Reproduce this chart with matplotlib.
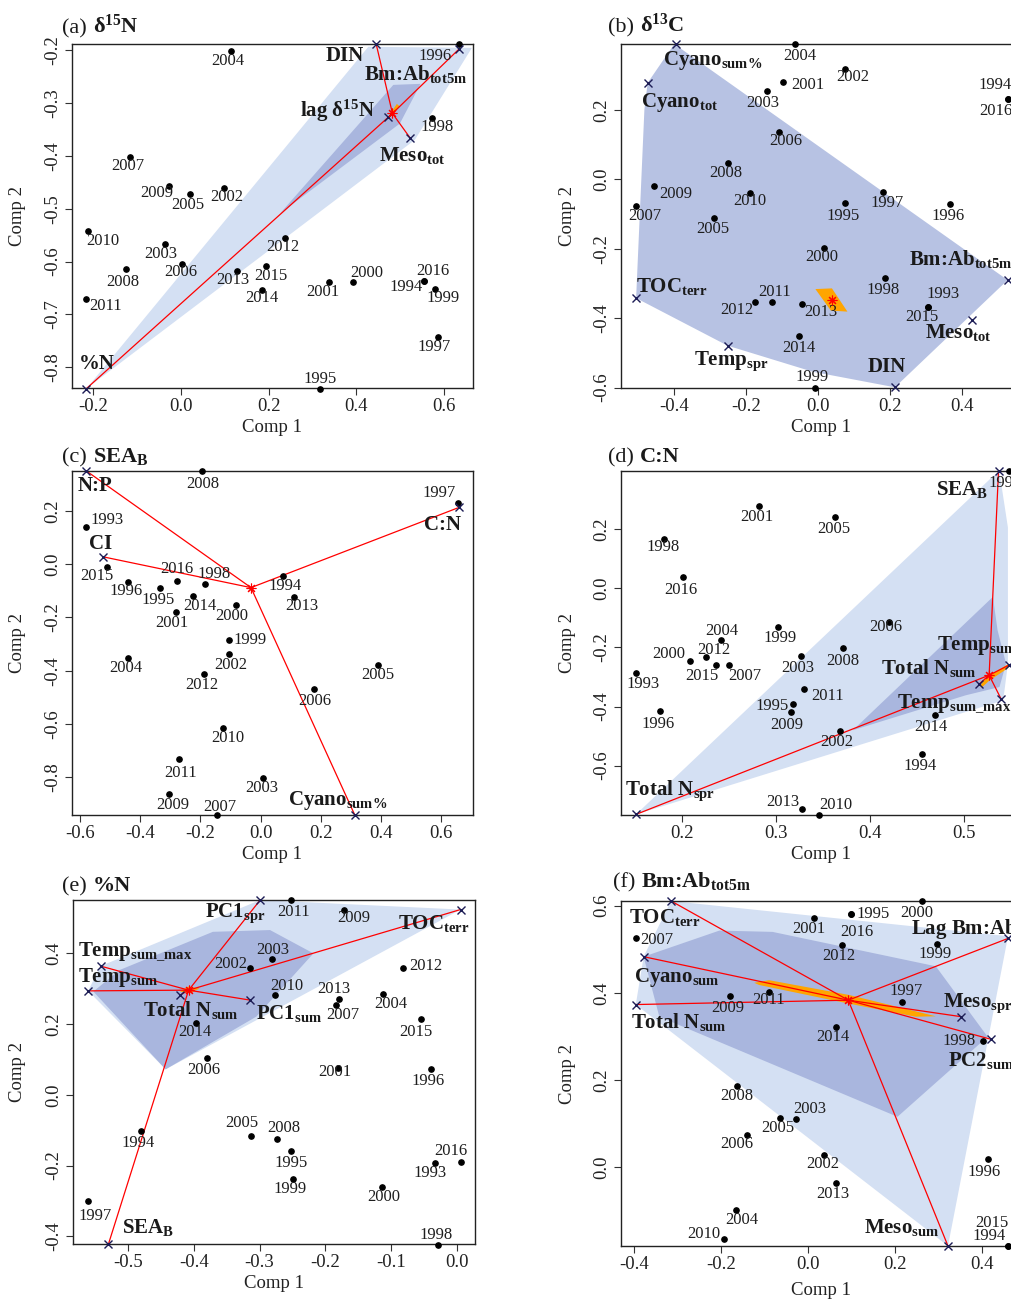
import matplotlib
matplotlib.use('Agg')
import matplotlib.pyplot as plt

plt.rcParams['font.family'] = ['Liberation Serif', 'DejaVu Serif']
plt.rcParams['mathtext.fontset'] = 'custom'
plt.rcParams['mathtext.rm'] = 'Liberation Serif'
plt.rcParams['mathtext.bf'] = 'Liberation Serif:bold'
plt.rcParams['mathtext.it'] = 'Liberation Serif:italic'
plt.rcParams['axes.unicode_minus'] = False

# ---------------- Panel (a) d15N ----------------
A_YEARS = [2004, 1996, 1998, 2007, 2009, 2005, 2002, 2010, 2012, 2003, 2006, 2008,
           2013, 2015, 2014, 2001, 2000, 2016, 1994, 1999, 2011, 1997, 1995]
A_X = [0.114, 0.633, 0.571, -0.116, -0.028, 0.021, 0.099, -0.212, 0.237, -0.036, 0.002, -0.126,
       0.128, 0.194, 0.184, 0.338, 0.393, 0.554, 0.554, 0.579, -0.216, 0.586, 0.317]
A_Y = [-0.201, -0.189, -0.329, -0.403, -0.457, -0.472, -0.460, -0.542, -0.555, -0.567, -0.605, -0.614,
       -0.618, -0.609, -0.654, -0.639, -0.639, -0.637, -0.637, -0.651, -0.671, -0.743, -0.841]
A_VARS = ['DIN', 'Bm:Ab$_\\mathbf{tot5m}$', 'lag δ$^\\mathbf{15}$N', 'Meso$_\\mathbf{tot}$', '%N']
A_VX = [0.445, 0.634, 0.473, 0.522, -0.215]
A_VY = [-0.189, -0.198, -0.327, -0.366, -0.840]
A_CENTER = (0.482, -0.320)
A_LIGHT = [(-0.215, -0.840), (0.427, -0.194), (0.663, -0.196), (0.533, -0.370)]
A_MID = [(0.226, -0.509), (0.484, -0.266), (0.546, -0.264), (0.499, -0.339)]
A_ORANGE = [(0.475, -0.323), (0.492, -0.302), (0.498, -0.306), (0.481, -0.325)]
A_XTICKS = [-0.2, 0.0, 0.2, 0.4, 0.6]
A_YTICKS = [-0.8, -0.7, -0.6, -0.5, -0.4, -0.3, -0.2]

# ---------------- Panel (b) d13C ----------------
B_YEARS = [2004, 2002, 2001, 2003, 1994, 2016, 2006, 2008, 2009, 2007, 2010, 2005,
           1995, 1997, 1996, 2000, 1998, 1993, 2015, 2011, 2012, 2013, 2014, 1999]
B_X = [-0.066, 0.073, -0.097, -0.142, 0.526, 0.526, -0.108, -0.251, -0.455, -0.506, -0.191, -0.290,
       0.075, 0.181, 0.367, 0.017, 0.185, 0.306, 0.306, -0.128, -0.176, -0.045, -0.053, -0.008]
B_Y = [0.390, 0.318, 0.280, 0.254, 0.232, 0.232, 0.136, 0.048, -0.018, -0.076, -0.038, -0.110,
       -0.067, -0.035, -0.071, -0.198, -0.285, -0.369, -0.369, -0.352, -0.352, -0.359, -0.452, -0.601]
B_VARS = ['Cyano$_\\mathbf{sum\\%}$', 'Cyano$_\\mathbf{tot}$', 'TOC$_\\mathbf{terr}$', 'Temp$_\\mathbf{spr}$',
          'DIN', 'Meso$_\\mathbf{tot}$', 'Bm:Ab$_\\mathbf{tot5m}$']
B_VX = [-0.395, -0.474, -0.506, -0.252, 0.213, 0.427, 0.526]
B_VY = [0.390, 0.278, -0.342, -0.479, -0.599, -0.405, -0.290]
B_CENTER = (0.037, -0.348)
B_HULL = [(-0.400, 0.390), (-0.474, 0.278), (-0.483, 0.201), (-0.506, -0.342), (-0.252, -0.479),
          (-0.016, -0.554), (0.213, -0.599), (0.526, -0.290)]
B_ORANGE = [(-0.008, -0.316), (0.038, -0.314), (0.081, -0.381), (0.035, -0.378)]
B_XTICKS = [-0.4, -0.2, 0.0, 0.2, 0.4]
B_YTICKS = [-0.6, -0.4, -0.2, 0.0, 0.2]

# ---------------- Panel (c) SEA_B ----------------
C_YEARS = [2008, 1997, 1993, 2015, 1996, 1995, 2016, 1998, 2014, 2001, 2000, 1994,
           2013, 1999, 2002, 2004, 2012, 2005, 2006, 2010, 2011, 2003, 2009, 2007]
C_X = [-0.195, 0.657, -0.579, -0.509, -0.442, -0.333, -0.279, -0.184, -0.225, -0.282, -0.082, 0.073,
       0.111, -0.105, -0.105, -0.442, -0.187, 0.389, 0.178, -0.124, -0.270, 0.009, -0.303, -0.144]
C_Y = [0.350, 0.228, 0.138, -0.010, -0.068, -0.088, -0.064, -0.075, -0.120, -0.180, -0.154, -0.045,
       -0.125, -0.283, -0.338, -0.352, -0.412, -0.379, -0.468, -0.615, -0.730, -0.802, -0.865, -0.942]
C_VARS = ['N:P', 'CI', 'C:N', 'Cyano$_\\mathbf{sum\\%}$']
C_VX = [-0.579, -0.525, 0.659, 0.313]
C_VY = [0.350, 0.028, 0.213, -0.942]
C_CENTER = (-0.032, -0.088)
C_XTICKS = [-0.6, -0.4, -0.2, 0.0, 0.2, 0.4, 0.6]
C_YTICKS = [-0.8, -0.6, -0.4, -0.2, 0.0, 0.2]

# ---------------- Panel (d) C:N ----------------
D_YEARS = [1997, 2001, 2005, 1998, 2016, 2004, 1999, 2006, 2000, 2012, 2015, 2007,
           2003, 2008, 1993, 2011, 1995, 2009, 1996, 2014, 2002, 1994, 2013, 2010]
D_X = [0.548, 0.282, 0.363, 0.181, 0.201, 0.242, 0.302, 0.420, 0.209, 0.225, 0.236, 0.250,
       0.327, 0.371, 0.151, 0.330, 0.318, 0.316, 0.177, 0.469, 0.368, 0.456, 0.328, 0.346]
D_Y = [0.397, 0.279, 0.243, 0.166, 0.039, -0.174, -0.131, -0.114, -0.245, -0.234, -0.260, -0.260,
       -0.230, -0.202, -0.286, -0.341, -0.392, -0.418, -0.416, -0.430, -0.483, -0.559, -0.748, -0.767]
D_VARS = ['SEA$_\\mathbf{B}$', 'Temp$_\\mathbf{sum}$', 'Total N$_\\mathbf{sum}$',
          'Temp$_\\mathbf{sum\\_max}$', 'Total N$_\\mathbf{spr}$']
D_VX = [0.537, 0.548, 0.516, 0.540, 0.151]
D_VY = [0.397, -0.260, -0.325, -0.376, -0.765]
D_CENTER = (0.527, -0.294)
D_LIGHT = [(0.151, -0.765), (0.532, 0.382), (0.538, 0.393), (0.547, 0.206), (0.547, -0.255), (0.542, -0.379)]
D_MID = [(0.382, -0.480), (0.531, -0.029), (0.536, -0.142), (0.545, -0.255), (0.538, -0.334), (0.502, -0.362)]
D_ORANGE = [(0.517, -0.331), (0.524, -0.300), (0.547, -0.257), (0.548, -0.268), (0.527, -0.313), (0.519, -0.336)]
D_XTICKS = [0.2, 0.3, 0.4, 0.5]
D_YTICKS = [-0.6, -0.4, -0.2, 0.0, 0.2]

# ---------------- Panel (e) %N ----------------
E_YEARS = [2011, 2009, 2003, 2002, 2012, 2010, 2013, 2007, 2004, 2015, 2014, 2006,
           2001, 1996, 1994, 2005, 2008, 1995, 1999, 2000, 1993, 2016, 1997, 1998]
E_X = [-0.252, -0.171, -0.281, -0.314, -0.081, -0.277, -0.179, -0.184, -0.112, -0.054, -0.396, -0.380,
       -0.181, -0.039, -0.481, -0.313, -0.274, -0.252, -0.249, -0.113, -0.033, 0.006, -0.561, -0.028]
E_Y = [0.551, 0.522, 0.383, 0.358, 0.358, 0.281, 0.270, 0.253, 0.285, 0.214, 0.203, 0.104,
       0.075, 0.072, -0.101, -0.117, -0.125, -0.158, -0.238, -0.261, -0.193, -0.190, -0.299, -0.424]
E_VARS = ['PC1$_\\mathbf{spr}$', 'TOC$_\\mathbf{terr}$', 'Temp$_\\mathbf{sum\\_max}$', 'Temp$_\\mathbf{sum}$',
          'Total N$_\\mathbf{sum}$', 'PC1$_\\mathbf{sum}$', 'SEA$_\\mathbf{B}$']
E_VX = [-0.299, 0.006, -0.542, -0.561, -0.421, -0.315, -0.530]
E_VY = [0.551, 0.524, 0.364, 0.294, 0.282, 0.268, -0.422]
E_CENTER = (-0.408, 0.296)
E_LIGHT = [(-0.561, 0.294), (-0.542, 0.364), (-0.299, 0.551), (0.006, 0.524), (-0.443, 0.072)]
E_MID = [(-0.553, 0.292), (-0.513, 0.353), (-0.371, 0.461), (-0.284, 0.466), (-0.218, 0.400),
         (-0.305, 0.221), (-0.443, 0.072)]
E_ORANGE = [(-0.421, 0.292), (-0.409, 0.306), (-0.391, 0.301), (-0.406, 0.287)]
E_XTICKS = [-0.5, -0.4, -0.3, -0.2, -0.1, 0.0]
E_YTICKS = [-0.4, -0.2, 0.0, 0.2, 0.4]

# ---------------- Panel (f) Bm:Ab_tot5m ----------------
F_YEARS = [2000, 1995, 2016, 2001, 2007, 2012, 1999, 2009, 2011, 1997, 2014, 1998,
           2008, 2003, 2005, 2006, 2002, 1996, 2013, 2004, 2010, 2015, 1994]
F_X = [0.262, 0.098, 0.098, 0.014, -0.395, 0.077, 0.296, -0.179, -0.090, 0.215, 0.064, 0.402,
       -0.163, -0.028, -0.065, -0.140, 0.037, 0.414, 0.064, -0.166, -0.194, 0.459, 0.459]
F_Y = [0.611, 0.582, 0.582, 0.572, 0.527, 0.511, 0.513, 0.392, 0.401, 0.379, 0.321, 0.290,
       0.186, 0.109, 0.113, 0.074, 0.028, 0.017, -0.037, -0.100, -0.167, -0.182, -0.182]
F_VARS = ['TOC$_\\mathbf{terr}$', 'Cyano$_\\mathbf{sum}$', 'Total N$_\\mathbf{sum}$', 'Lag Bm:Ab$_\\mathbf{tot5m}$',
          'Meso$_\\mathbf{spr}$', 'PC2$_\\mathbf{sum}$', 'Meso$_\\mathbf{sum}$']
F_VX = [-0.315, -0.378, -0.396, 0.459, 0.352, 0.420, 0.321]
F_VY = [0.611, 0.483, 0.373, 0.525, 0.345, 0.293, -0.182]
F_CENTER = (0.092, 0.383)
F_LIGHT = [(-0.396, 0.373), (-0.378, 0.483), (-0.315, 0.611), (0.459, 0.530), (0.321, -0.182)]
F_MID = [(-0.378, 0.483), (-0.204, 0.543), (-0.082, 0.540), (0.293, 0.461), (0.412, 0.299),
         (0.205, 0.115), (-0.342, 0.345)]
F_ORANGE = [(-0.124, 0.423), (-0.090, 0.429), (0.094, 0.395), (0.293, 0.346), (0.247, 0.345),
            (0.094, 0.375), (-0.113, 0.418)]
F_XTICKS = [-0.4, -0.2, 0.0, 0.2, 0.4]
F_YTICKS = [0.0, 0.2, 0.4, 0.6]

# ---------------- layout (pixel offsets of labels, axes boxes) ----------------
A_YOFF = [(-3, 10), (-24, 12), (6, 9), (-2, 9), (-12, 7), (-2, 11), (2, 9), (15, 10), (-2, 9), (-4, 10),
          (-1, 8), (-3, 13), (-4, 9), (5, 10), (0, 8), (-6, 10), (13, -9), (9, -10), (-18, 6), (8, 9),
          (20, 7), (-4, 10), (0, -10)]
A_VOFF = [(-31, 12), (-44, 25), (-51, -6), (2, 18), (10, -25)]
B_YOFF = [(5, 12), (8, 8), (24, 3), (-4, 12), (-12, -14), (-12, 12), (6, 9), (-2, 10), (21, 8), (9, 10),
          (0, 8), (-1, 11), (-2, 13), (4, 11), (-2, 12), (-3, 9), (-2, 12), (15, -13), (-7, 10), (2, -10),
          (-18, 8), (19, 8), (0, 12), (-3, -11)]
B_VOFF = [(37, 16), (32, 20), (36, -12), (4, 16), (-8, -20), (-14, 13), (-47, -21)]
C_YOFF = [(1, 13), (-19, -10), (21, -7), (-11, 9), (-2, 9), (-2, 12), (0, -12), (9, -10), (7, 10), (-4, 11),
          (-4, 11), (3, 10), (8, 9), (21, 0), (2, 11), (-2, 10), (-3, 11), (0, 10), (1, 12), (4, 10),
          (1, 14), (-2, 10), (3, 11), (3, -8)]
C_VOFF = [(9, 15), (-2, -13), (-16, 18), (-17, -15)]
D_YOFF = [(-4, 12), (-2, 11), (-1, 12), (-1, 8), (-2, 13), (0, -9), (2, 11), (-3, 5), (-22, -7), (8, -7),
          (-14, 11), (16, 11), (-4, 12), (0, 13), (7, 11), (23, 7), (-21, 2), (-4, 13), (-2, 13), (-4, 12),
          (-3, 11), (-2, 12), (-19, -7), (17, -10)]
D_VOFF = [(-36, 19), (-32, -20), (-50, -16), (-47, 4), (34, -24)]
E_YOFF = [(2, 12), (9, 8), (1, -9), (-20, -4), (22, -2), (12, -9), (-5, -10), (7, 10), (8, 10), (-5, 13),
          (-2, 9), (-3, 12), (-3, 4), (-3, 12), (-3, 12), (-9, -13), (7, -11), (0, 12), (-3, 10), (1, 10),
          (-5, 10), (-10, -11), (7, 15), (-2, -10)]
E_VOFF = [(-25, 13), (-27, 14), (35, -14), (30, -13), (11, 15), (39, 13), (40, -16)]
F_YOFF = [(-6, 12), (22, 0), (6, 18), (-6, 11), (21, 2), (-3, 11), (-2, 10), (-3, 12), (0, 8), (4, -11),
          (-3, 10), (-24, 0), (0, 10), (14, -10), (-2, 10), (-10, 9), (-2, 9), (-4, 13), (-3, 11), (6, 10),
          (-20, -5), (-16, -23), (-19, -10)]
F_VOFF = [(-6, 16), (33, 21), (43, 17), (-25, -9), (16, -13), (-10, 21), (-46, -19)]

W, H = 1012, 1299
LIGHT = '#d4e0f3'
MID = '#a9b6de'
BHULL = '#b7c2e3'
ORANGE = '#ffa500'

fig = plt.figure(figsize=(W / 100, H / 100), dpi=100)


def make_axes(l, r, t, b):
    return fig.add_axes([l / W, 1 - b / H, (r - l) / W, (b - t) / H])


def fmt(v):
    return '0.0' if abs(v) < 1e-9 else f'{v:.1f}'


def draw(ax, p):
    for poly, col in p['polys']:
        xs, ys = zip(*poly)
        ax.fill(xs, ys, color=col, lw=0, zorder=1)
    cx, cy = p['center']
    if p['lines']:
        for vx, vy in zip(p['vx'], p['vy']):
            ax.plot([cx, vx], [cy, vy], color='red', lw=0.9, zorder=2, clip_on=False)
    ax.plot(p['x'], p['y'], 'o', color='black', ms=3.8, zorder=4, clip_on=False)
    for yr, x, y, (dx, dy) in zip(p['years'], p['x'], p['y'], p['yoff']):
        ax.annotate(str(yr), (x, y), xytext=(dx, -dy), textcoords='offset pixels',
                    ha='center', va='center', fontsize=12, color='#1e1e1e', zorder=5,
                    annotation_clip=False)
    ax.plot(p['vx'], p['vy'], 'x', color='#1c1c55', ms=6, mew=1.0, zorder=4, clip_on=False)
    ax.plot([cx], [cy], marker=(8, 2, 0), color='red', ms=7, mew=0.8, zorder=6, clip_on=False)
    for name, x, y, (dx, dy) in zip(p['vnames'], p['vx'], p['vy'], p['voff']):
        ax.annotate(name, (x, y), xytext=(dx, -dy), textcoords='offset pixels',
                    ha='center', va='center', fontsize=15, fontweight='bold', color='#1a1a1a',
                    zorder=7, annotation_clip=False)
    ax.set_xlim(*p['xlim'])
    ax.set_ylim(*p['ylim'])
    ax.set_xticks(p['xticks'])
    ax.set_xticklabels([fmt(v) for v in p['xticks']])
    ax.set_yticks(p['yticks'])
    ax.set_yticklabels([fmt(v) for v in p['yticks']])
    ax.tick_params(axis='both', direction='out', length=5, width=0.8, labelsize=13.5,
                   color='#333333', labelcolor='#222222')
    ax.tick_params(axis='x', pad=2)
    ax.tick_params(axis='y', labelrotation=90, pad=3)
    for lbl in ax.get_yticklabels():
        lbl.set_va('center')
    for s in ax.spines.values():
        s.set_linewidth(1.0)
        s.set_color('#222222')
    ax.set_xlabel('Comp 1', fontsize=13.5, color='#222222')
    ax.set_ylabel('Comp 2', fontsize=13.5, color='#222222')
    ax.xaxis.label.set_va('center')
    ax.yaxis.label.set_va('center')
    ax.xaxis.set_label_coords(p['xl'], p['xly'])
    ax.yaxis.set_label_coords(p['ylx'], 0.5)


def title(xpx, ypx, tag, name):
    t1 = fig.text(xpx / W, 1 - ypx / H, tag, fontsize=16, va='baseline', ha='left', color='#1a1a1a')
    plt.annotate(name, xy=(1, 0), xycoords=t1, xytext=(6, 0), textcoords='offset pixels',
                 fontsize=16, fontweight='bold', va='bottom', ha='left', color='#1a1a1a')


panels = [
    dict(box=(72, 473, 44, 388), years=A_YEARS, x=A_X, y=A_Y, yoff=A_YOFF, vnames=A_VARS, vx=A_VX, vy=A_VY,
         voff=A_VOFF, center=A_CENTER, lines=True,
         polys=[(A_LIGHT, LIGHT), (A_MID, MID), (A_ORANGE, ORANGE)],
         xlim=(-0.248, 0.6655), ylim=(-0.839, -0.1887), xticks=A_XTICKS, yticks=A_YTICKS,
         xl=0.5, xly=-0.116, ylx=-0.137, title=(62, 33, '(a)', 'δ$^\\mathbf{15}$N')),
    dict(box=(621, 1022, 44, 388), years=B_YEARS, x=B_X, y=B_Y, yoff=B_YOFF, vnames=B_VARS, vx=B_VX, vy=B_VY,
         voff=B_VOFF, center=B_CENTER, lines=False,
         polys=[(B_HULL, BHULL), (B_ORANGE, ORANGE)],
         xlim=(-0.548, 0.566), ylim=(-0.601, 0.390), xticks=B_XTICKS, yticks=B_YTICKS,
         xl=0.5, xly=-0.116, ylx=-0.133, title=(608, 32, '(b)', 'δ$^\\mathbf{13}$C')),
    dict(box=(72, 473, 471, 815), years=C_YEARS, x=C_X, y=C_Y, yoff=C_YOFF, vnames=C_VARS, vx=C_VX, vy=C_VY,
         voff=C_VOFF, center=C_CENTER, lines=True, polys=[],
         xlim=(-0.627, 0.706), ylim=(-0.942, 0.350), xticks=C_XTICKS, yticks=C_YTICKS,
         xl=0.5, xly=-0.116, ylx=-0.137, title=(62, 462, '(c)', 'SEA$_\\mathbf{B}$')),
    dict(box=(621, 1022, 471, 815), years=D_YEARS, x=D_X, y=D_Y, yoff=D_YOFF, vnames=D_VARS, vx=D_VX, vy=D_VY,
         voff=D_VOFF, center=D_CENTER, lines=True,
         polys=[(D_LIGHT, LIGHT), (D_MID, MID), (D_ORANGE, ORANGE)],
         xlim=(0.135, 0.562), ylim=(-0.767, 0.397), xticks=D_XTICKS, yticks=D_YTICKS,
         xl=0.5, xly=-0.116, ylx=-0.133, title=(608, 462, '(d)', 'C:N')),
    dict(box=(73, 475, 900, 1244), years=E_YEARS, x=E_X, y=E_Y, yoff=E_YOFF, vnames=E_VARS, vx=E_VX, vy=E_VY,
         voff=E_VOFF, center=E_CENTER, lines=True,
         polys=[(E_LIGHT, LIGHT), (E_MID, MID), (E_ORANGE, ORANGE)],
         xlim=(-0.584, 0.028), ylim=(-0.422, 0.551), xticks=E_XTICKS, yticks=E_YTICKS,
         xl=0.5, xly=-0.116, ylx=-0.137, title=(62, 891, '(e)', '%N')),
    dict(box=(621, 1022, 901, 1246), years=F_YEARS, x=F_X, y=F_Y, yoff=F_YOFF, vnames=F_VARS, vx=F_VX, vy=F_VY,
         voff=F_VOFF, center=F_CENTER, lines=True,
         polys=[(F_LIGHT, LIGHT), (F_MID, MID), (F_ORANGE, ORANGE)],
         xlim=(-0.430, 0.491), ylim=(-0.182, 0.611), xticks=F_XTICKS, yticks=F_YTICKS,
         xl=0.5, xly=-0.13, ylx=-0.133, title=(613, 887, '(f)', 'Bm:Ab$_\\mathbf{tot5m}$')),
]

for p in panels:
    ax = make_axes(*p['box'])
    draw(ax, p)
    title(*p['title'])

fig.savefig('out.png', dpi=100)
